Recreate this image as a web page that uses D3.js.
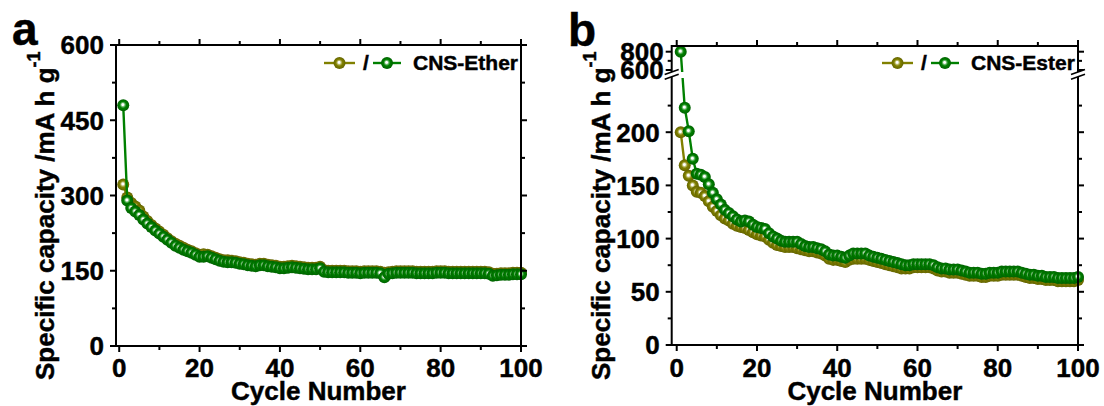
<!DOCTYPE html>
<html><head><meta charset="utf-8">
<script src="https://cdn.jsdelivr.net/npm/d3@7"></script>
<style>
html,body{margin:0;padding:0;background:#fff;}
svg{display:block;}
text{font-family:"Liberation Sans",Arial,Helvetica,sans-serif;font-weight:bold;fill:#000;stroke:#000;stroke-width:0.45px;}
</style></head><body>
<svg id="chart" width="1104" height="406"></svg>
<script>
// Cycle index shared by all four series
const cycles = d3.range(1, 101);

// Panel a: ether electrolyte, control cell and CNS cell (mA h g-1)
const etherControl = [322,296,285,278,270,258,249,241,234,228,222,215,209,204,200,196,192,189,185,182,
  183,182,179,176,173,171,171,170,169,167,166,164,163,162,164,164,162,161,160,158,
  158,159,160,159,158,157,156,156,156,158,151,150,150,150,150,150,149,149,149,148,
  149,149,149,149,148,146,147,148,149,149,149,149,149,148,148,148,148,148,149,149,
  149,148,148,148,148,148,148,148,148,148,148,147,144,144,145,145,145,146,146,146];
const etherCNS = [480,290,275,268,261,252,244,237,230,224,218,212,206,200,196,192,189,186,182,178,
  178,179,176,173,170,168,167,167,166,164,163,161,160,159,161,161,159,158,157,155,
  155,156,157,156,155,154,153,153,153,155,148,147,147,147,147,147,146,146,146,145,
  146,146,146,146,145,137,144,145,146,146,146,146,146,145,145,145,145,145,146,146,
  146,145,145,145,145,145,145,145,145,145,145,144,140,141,142,142,142,143,143,143];

// Panel b: ester electrolyte, control cell and CNS cell (mA h g-1)
const esterControl = [200,169,159,150,144,143,140,135,130,126,122,119,117,114,112,111,110,108,106,104,
  103,102,99,96,94,93,92,92,92,91,90,89,88,88,87,86,84,81,80,80,
  79,78,80,81,81,81,81,80,79,78,77,76,75,74,73,72,72,72,73,73,
  73,73,73,72,70,69,69,68,68,68,67,66,65,65,65,64,64,65,65,65,
  66,66,66,66,66,65,64,63,63,62,62,61,61,61,60,60,60,60,60,61];
const esterCNS = [800,223,201,175,161,160,158,151,143,137,132,127,124,121,118,116,117,116,113,111,
  110,109,105,102,100,98,97,97,97,97,95,93,92,92,91,90,88,85,84,84,
  83,82,84,86,86,86,86,84,83,82,81,80,79,78,77,76,75,75,76,76,
  76,76,76,75,73,72,72,71,71,71,70,69,68,68,68,67,67,68,68,68,
  69,69,69,69,69,68,67,66,66,65,65,64,64,64,63,63,63,63,63,64];

// Axis ticks
const xTicks = [0, 20, 40, 60, 80, 100];
const xMinorTicks = [10, 30, 50, 70, 90];
const yTicksA = [0, 150, 300, 450, 600];
const yMinorTicksA = [75, 225, 375, 525];
const yTicksBLow = [0, 50, 100, 150, 200];
const yMinorTicksBLow = [25, 75, 125, 175, 225];
const yTicksBHigh = [600, 800];
const yMinorTicksBHigh = [700];

// Labels
const seriesNames = ["/", "CNS-Ether", "CNS-Ester"];
const xTitle = "Cycle Number";
const yTitleMain = "Specific capacity /mA h g";
const yTitleSup = "-1";
const panelLetters = ["a", "b"];

const OLIVE = "#808000", GREEN = "#008000";
const svg = d3.select("#chart");

// Shaded sphere fills for the symbols
const defs = svg.append("defs");
function sphere(id, base, dark, light) {
  const g = defs.append("radialGradient").attr("id", id)
    .attr("cx", "0.5").attr("cy", "0.5").attr("r", "0.5").attr("fx", "0.46").attr("fy", "0.44");
  g.append("stop").attr("offset", "0%").attr("stop-color", "#ffffff");
  g.append("stop").attr("offset", "16%").attr("stop-color", "#ffffff");
  g.append("stop").attr("offset", "34%").attr("stop-color", light);
  g.append("stop").attr("offset", "55%").attr("stop-color", base);
  g.append("stop").attr("offset", "100%").attr("stop-color", dark);
}
sphere("ballOlive", OLIVE, "#646400", "#b9b96a");
sphere("ballGreen", GREEN, "#006200", "#6ab86a");

const R = 6;

function drawSeries(g, x, y, values, color, fill) {
  const pts = cycles.map((c, i) => [c, values[i]]);
  g.append("path").datum(pts)
    .attr("fill", "none").attr("stroke", color).attr("stroke-width", 2.4)
    .attr("d", d3.line().x(d => x(d[0])).y(d => y(d[1])));
  g.selectAll(null).data(pts).enter().append("circle")
    .attr("cx", d => x(d[0])).attr("cy", d => y(d[1])).attr("r", R)
    .attr("fill", `url(#${fill})`);
}

function hTicks(g, x, values, yPos, dir, len) {
  g.selectAll(null).data(values).enter().append("line")
    .attr("x1", d => x(d)).attr("x2", d => x(d))
    .attr("y1", yPos).attr("y2", yPos + dir * len)
    .attr("stroke", "#000").attr("stroke-width", 2);
}
function vTicks(g, y, values, xPos, dir, len) {
  g.selectAll(null).data(values).enter().append("line")
    .attr("y1", d => y(d)).attr("y2", d => y(d))
    .attr("x1", xPos).attr("x2", xPos + dir * len)
    .attr("stroke", "#000").attr("stroke-width", 2);
}

function xAxisLabels(g, x, cx) {
  g.selectAll(null).data(xTicks).enter().append("text")
    .attr("x", d => x(d)).attr("y", 377).attr("text-anchor", "middle")
    .attr("font-size", 26).text(d => d);
  g.append("text").attr("x", cx).attr("y", 400).attr("text-anchor", "middle")
    .attr("font-size", 26).text(xTitle);
}

function yTitle(g, xBase) {
  const t = g.append("text").attr("transform", `translate(${xBase},380) rotate(-90)`)
    .attr("font-size", 26).attr("text-anchor", "start");
  t.append("tspan").text(yTitleMain);
  t.append("tspan").attr("font-size", 18).attr("dy", -14).text(yTitleSup);
}

function legend(g, x0, yc, name) {
  const items = [
    {x1: x0, x2: x0 + 31, color: OLIVE, fill: "ballOlive"},
    {x1: x0 + 49, x2: x0 + 77, color: GREEN, fill: "ballGreen"}
  ];
  items.forEach(it => {
    g.append("line").attr("x1", it.x1).attr("x2", it.x2).attr("y1", yc).attr("y2", yc)
      .attr("stroke", it.color).attr("stroke-width", 2.4);
    g.append("circle").attr("cx", (it.x1 + it.x2) / 2).attr("cy", yc).attr("r", R)
      .attr("fill", `url(#${it.fill})`);
  });
  g.append("text").attr("x", x0 + 42).attr("y", yc + 7).attr("text-anchor", "middle")
    .attr("font-size", 21).text(seriesNames[0]);
  g.append("text").attr("x", x0 + 89).attr("y", yc + 7)
    .attr("font-size", 21).text(name);
}

// ---------- Panel a ----------
{
  const L = 116, Rt = 521, T = 45, B = 346;
  const x = d3.scaleLinear().domain([-0.8, 100]).range([L, Rt]);
  const y = d3.scaleLinear().domain([0, 600]).range([B, T]);
  const g = svg.append("g");

  drawSeries(g, x, y, etherControl, OLIVE, "ballOlive");
  drawSeries(g, x, y, etherCNS, GREEN, "ballGreen");

  g.append("rect").attr("x", L).attr("y", T).attr("width", Rt - L).attr("height", B - T)
    .attr("fill", "none").attr("stroke", "#000").attr("stroke-width", 2);

  hTicks(g, x, xTicks, B, 1, 6); hTicks(g, x, xMinorTicks, B, 1, 4);
  hTicks(g, x, xTicks, T, -1, 6); hTicks(g, x, xMinorTicks, T, -1, 4);
  vTicks(g, y, yTicksA, L, -1, 6); vTicks(g, y, yMinorTicksA, L, -1, 4);
  vTicks(g, y, yTicksA, Rt, 1, 6); vTicks(g, y, yMinorTicksA, Rt, 1, 4);

  g.selectAll(null).data(yTicksA).enter().append("text")
    .attr("x", L - 12).attr("y", d => y(d)).attr("dy", "0.36em").attr("text-anchor", "end")
    .attr("font-size", 26).text(d => d);
  xAxisLabels(g, x, (L + Rt) / 2);
  yTitle(g, 54);
  legend(g, 324, 63, seriesNames[1]);
  g.append("text").attr("x", 12).attr("y", 45).attr("font-size", 46).text(panelLetters[0]);
}

// ---------- Panel b (broken y axis) ----------
{
  const L = 671.7, Rt = 1078, T = 46, B = 345;
  const x = d3.scaleLinear().domain([-1.25, 100]).range([L, Rt]);
  const yLow = d3.scaleLinear().domain([0, 250]).range([B, 79]);
  const yHigh = d3.scaleLinear().domain([600, 800]).range([70, 51.7]);
  const y = v => (v > 400 ? yHigh(v) : yLow(v));
  const g = svg.append("g");

  const clip = defs.append("clipPath").attr("id", "breakClip");
  clip.append("rect").attr("x", 0).attr("y", 0).attr("width", 1104).attr("height", 72);
  clip.append("rect").attr("x", 0).attr("y", 78).attr("width", 1104).attr("height", 328);

  const dg = g.append("g").attr("clip-path", "url(#breakClip)");
  drawSeries(dg, x, y, esterControl, OLIVE, "ballOlive");
  drawSeries(dg, x, y, esterCNS, GREEN, "ballGreen");

  g.append("rect").attr("x", L).attr("y", T).attr("width", Rt - L).attr("height", B - T)
    .attr("fill", "none").attr("stroke", "#000").attr("stroke-width", 2);

  hTicks(g, x, xTicks, B, 1, 6); hTicks(g, x, xMinorTicks, B, 1, 4);
  hTicks(g, x, xTicks, T, -1, 6); hTicks(g, x, xMinorTicks, T, -1, 4);
  [[L, -1], [Rt, 1]].forEach(([xp, dir]) => {
    vTicks(g, yLow, yTicksBLow, xp, dir, 6); vTicks(g, yLow, yMinorTicksBLow, xp, dir, 4);
    vTicks(g, yHigh, yTicksBHigh, xp, dir, 6); vTicks(g, yHigh, yMinorTicksBHigh, xp, dir, 4);
  });

  // axis break marks on both vertical axes
  [L, Rt].forEach(xp => {
    const a = 74.6, b = 79.2, s = 5;
    g.append("polygon")
      .attr("points", `${xp - 7},${a} ${xp + 7},${a - s} ${xp + 7},${b - s} ${xp - 7},${b}`)
      .attr("fill", "#fff");
    [a, b].forEach(yy => g.append("line")
      .attr("x1", xp - 7).attr("y1", yy).attr("x2", xp + 7).attr("y2", yy - s)
      .attr("stroke", "#000").attr("stroke-width", 1.6));
  });

  g.selectAll(null).data(yTicksBLow).enter().append("text")
    .attr("x", L - 12).attr("y", d => yLow(d)).attr("dy", "0.36em").attr("text-anchor", "end")
    .attr("font-size", 26).text(d => d);
  g.selectAll(null).data(yTicksBHigh).enter().append("text")
    .attr("x", L - 8).attr("y", d => yHigh(d)).attr("dy", "0.36em").attr("text-anchor", "end")
    .attr("font-size", 26).text(d => d);
  xAxisLabels(g, x, (L + Rt) / 2);
  yTitle(g, 610);
  legend(g, 882, 63, seriesNames[2]);
  g.append("text").attr("x", 568).attr("y", 46).attr("font-size", 46).text(panelLetters[1]);
}
</script>
</body></html>
